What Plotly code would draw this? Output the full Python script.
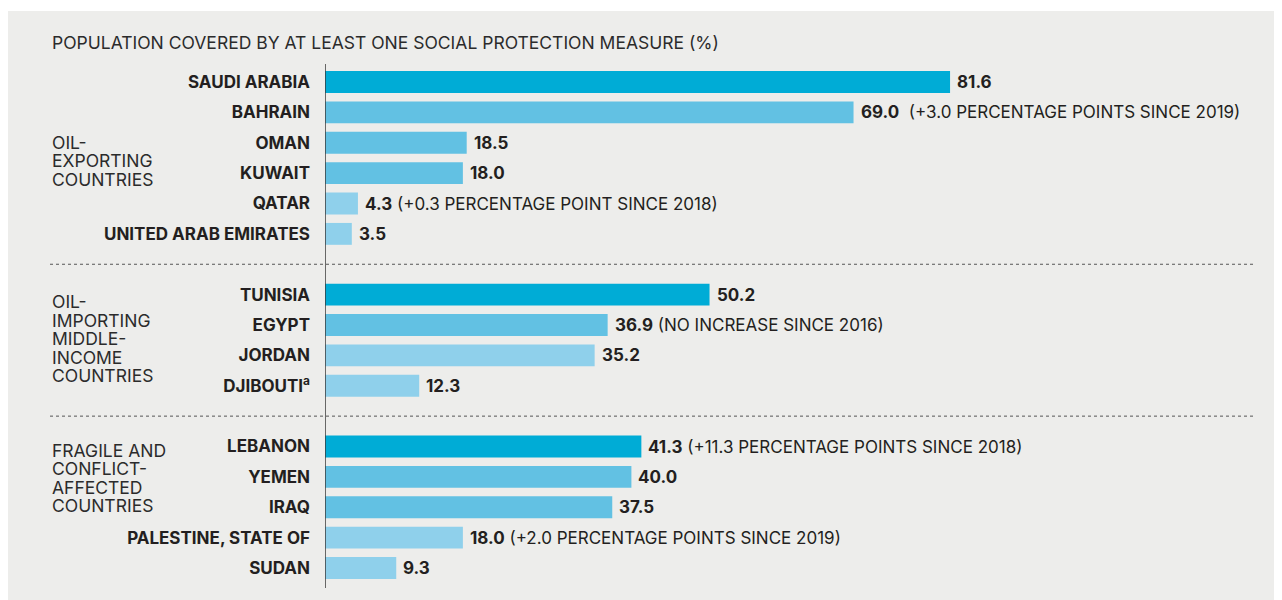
import plotly.graph_objects as go

countries = ["SAUDI ARABIA", "BAHRAIN", "OMAN", "KUWAIT", "QATAR", "UNITED ARAB EMIRATES",
             "TUNISIA", "EGYPT", "JORDAN", "DJIBOUTI<sup>a</sup>",
             "LEBANON", "YEMEN", "IRAQ", "PALESTINE, STATE OF", "SUDAN"]
values = [81.6, 69.0, 18.5, 18.0, 4.3, 3.5,
          50.2, 36.9, 35.2, 12.3,
          41.3, 40.0, 37.5, 18.0, 9.3]
notes = ["", "\u00a0(+3.0 PERCENTAGE POINTS SINCE 2019)", "", "", "(+0.3 PERCENTAGE POINT SINCE 2018)", "",
         "", "(NO INCREASE SINCE 2016)", "", "",
         "(+11.3 PERCENTAGE POINTS SINCE 2018)", "", "", "(+2.0 PERCENTAGE POINTS SINCE 2019)", ""]
shade = ["dark", "mid", "mid", "mid", "light", "light",
         "dark", "mid", "light", "light",
         "dark", "mid", "mid", "light", "light"]
slots = [0, 1, 2, 3, 4, 5, 7, 8, 9, 10, 12, 13, 14, 15, 16]
group_labels = [["OIL-", "EXPORTING", "COUNTRIES"],
                ["OIL-", "IMPORTING", "MIDDLE-", "INCOME", "COUNTRIES"],
                ["FRAGILE AND", "CONFLICT-", "AFFECTED", "COUNTRIES"]]
group_first_line_slot = [1.96, 7.21, 12.1]
separator_slots = [6, 11]
title = "POPULATION COVERED BY AT LEAST ONE SOCIAL PROTECTION MEASURE (%)"

palette = {"dark": "#00ACD6", "mid": "#62C1E3", "light": "#8FD0EB"}
BG = "#EDEDEB"
FONT = "Inter"
# page body has an 8px margin; figure is placed at (8, 8)
W, H = 1274, 592
ML, MR, MT, MB = 317, 27, 56, 12
PX_PER_UNIT = 7.66
PX_PER_SLOT = 30.375
LINE_GAP = 18.6
plot_w = W - ML - MR
plot_h = H - MT - MB

fig = go.Figure()
fig.add_trace(go.Bar(
    x=values, y=slots, orientation="h",
    marker=dict(color=[palette[s] for s in shade], line=dict(width=0)),
    width=0.72, hoverinfo="skip"))

def px_to_paper_x(px):
    return (px - ML) / plot_w

def py_to_paper_y(py):
    return 1 - (py - MT) / plot_h

ann = []
for v, s, n in zip(values, slots, notes):
    txt = f"<b>{v:.1f}</b>"
    if n:
        txt += " " + n
    ann.append(dict(x=v, y=s, xref="x", yref="y", text=txt, showarrow=False,
                    xanchor="left", yanchor="middle", xshift=5,
                    font=dict(family=FONT, size=17, color="#231F20")))
ann.append(dict(x=px_to_paper_x(42), y=py_to_paper_y(34), xref="paper", yref="paper",
                text=title, showarrow=False, xanchor="left", yanchor="middle",
                font=dict(family=FONT, size=17.5, color="#2b2b2b")))
for lines, start in zip(group_labels, group_first_line_slot):
    for i, line in enumerate(lines):
        ann.append(dict(x=px_to_paper_x(42), y=start + i * LINE_GAP / PX_PER_SLOT, xref="paper", yref="y",
                        text=line, showarrow=False, xanchor="left", yanchor="middle",
                        height=18, valign="middle",
                        font=dict(family=FONT, size=17.5, color="#2b2b2b")))

shapes = []
shapes.append(dict(type="rect", xref="paper", yref="paper",
                   x0=px_to_paper_x(0), x1=px_to_paper_x(W), y0=py_to_paper_y(3), y1=py_to_paper_y(0),
                   fillcolor="white", line=dict(width=0), layer="below"))
for s in separator_slots:
    shapes.append(dict(type="line", xref="paper", yref="y",
                       x0=px_to_paper_x(42), x1=1.0, y0=s, y1=s,
                       line=dict(color="#555555", width=1, dash="dot")))
shapes.append(dict(type="line", xref="x", yref="paper", x0=0, x1=0, y0=0, y1=1,
                   line=dict(color="#3a3a3a", width=1.5)))

y_top = -(74 - MT) / PX_PER_SLOT
y_bot = 16 + (H - MB - 560) / PX_PER_SLOT

fig.update_layout(
    width=W, height=H,
    margin=dict(l=ML, r=MR, t=MT, b=MB, pad=0),
    paper_bgcolor=BG, plot_bgcolor=BG,
    showlegend=False,
    xaxis=dict(range=[0, plot_w / PX_PER_UNIT], visible=False, fixedrange=True),
    yaxis=dict(range=[y_bot, y_top], tickmode="array", tickvals=slots, ticktext=countries,
               tickfont=dict(family=FONT, size=17, color="#231F20", weight="bold"),
               showgrid=False, zeroline=False, showline=False, ticks="",
               ticklabelstandoff=14, fixedrange=True),
    annotations=ann, shapes=shapes,
    font=dict(family=FONT),
)

fig.write_html("out.html", config={"displayModeBar": False})
